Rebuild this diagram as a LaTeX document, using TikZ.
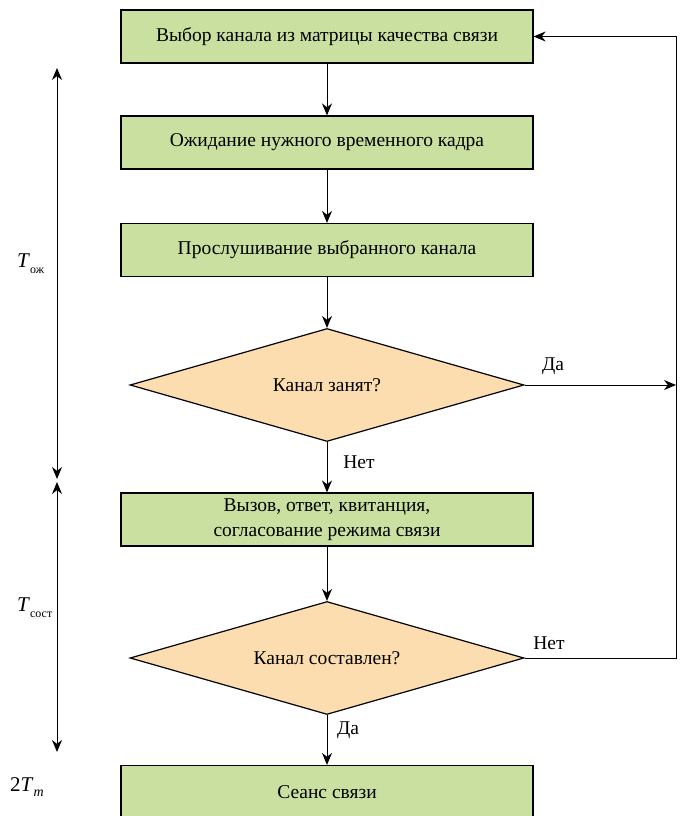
\documentclass[tikz,border=0pt]{standalone}
\usepackage{fontspec}
\setmainfont{Liberation Serif}
\usetikzlibrary{shapes.geometric,arrows.meta}
\definecolor{boxgreen}{RGB}{201,224,160}
\definecolor{diaorange}{RGB}{251,221,175}
\begin{document}
\begin{tikzpicture}[x=1pt,y=-1pt,
  box/.style={draw=black, line width=1.2pt, fill=boxgreen, minimum width=412pt, minimum height=53pt, inner sep=0pt, align=center, font=\fontsize{19.5}{25}\selectfont},
  dia/.style={draw=black, line width=1.2pt, fill=diaorange, diamond, aspect=3.5, minimum width=394pt, minimum height=113pt, inner sep=0pt, font=\fontsize{19.5}{25}\selectfont},
  arr/.style={-{Stealth[length=12pt,width=10pt]}, line width=1pt},
  darr/.style={{Stealth[length=12pt,width=10pt]}-{Stealth[length=12pt,width=10pt]}, line width=1pt},
  lbl/.style={font=\fontsize{19.5}{25}\selectfont, inner sep=0pt}]
\useasboundingbox (0,0) rectangle (683,816);
\node[box] (b1) at (327,36.5) {Выбор канала из матрицы качества связи};
\node[box] (b2) at (327,142.5) {Ожидание нужного временного кадра};
\node[box] (b3) at (327,250) {Прослушивание выбранного канала};
\node[dia] (d1) at (327,385) {Канал занят?};
\node[box] (b4) at (327,519.5) {Вызов, ответ, квитанция,\\согласование режима связи};
\node[dia] (d2) at (327,658) {Канал составлен?};
\node[box] (b5) at (327,792) {Сеанс связи};
\coordinate (r1) at (676,385);
\coordinate (r2) at (676,658);
\coordinate (r0) at (676,36.5);
\draw[arr] (b1.south) -- (b2.north);
\draw[arr] (b2.south) -- (b3.north);
\draw[arr] (b3.south) -- (d1.north);
\draw[arr] (d1.south) -- (b4.north);
\draw[arr] (b4.south) -- (d2.north);
\draw[arr] (d2.south) -- (b5.north);
\draw[arr] (d1.east) -- (r1);
\draw[arr] (d2.east) -- (r2) -- (r0) -- (b1.east);
\node[lbl] (da1) at (553,366) {Да};
\node[lbl] (net2) at (549,643) {Нет};
\node[lbl] (net1) at (359,462) {Нет};
\node[lbl] (da2) at (348,730) {Да};
\coordinate (t1) at (57,68);
\coordinate (t2) at (57,479);
\coordinate (t3) at (57,482);
\coordinate (t4) at (57,752);
\draw[darr] (t1) -- (t2);
\draw[darr] (t3) -- (t4);
\node[lbl, anchor=west] (tozh) at (17,264) {\fontsize{21}{21}\selectfont\textit{T}\raisebox{-0.6ex}{\fontsize{12}{12}\selectfont ож}};
\node[lbl, anchor=west] (tsost) at (17,608) {\fontsize{21}{21}\selectfont\textit{T}\raisebox{-0.6ex}{\fontsize{12}{12}\selectfont сост}};
\node[lbl, anchor=west] (tm) at (10,787) {\fontsize{21}{21}\selectfont 2\textit{T}\raisebox{-0.6ex}{\fontsize{14}{14}\selectfont\itshape m}};
\end{tikzpicture}
\end{document}
